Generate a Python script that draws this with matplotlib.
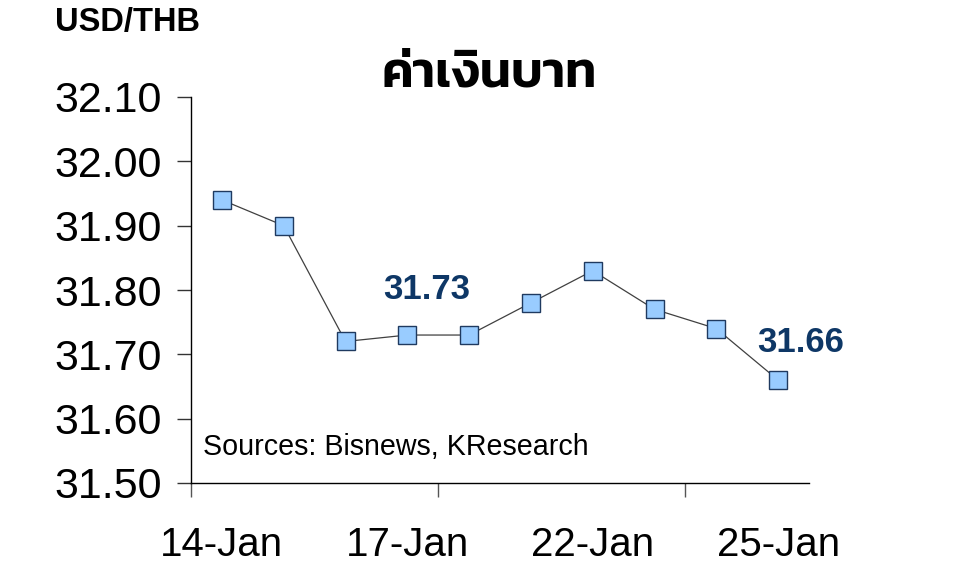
import os
import matplotlib
matplotlib.use("Agg")
import matplotlib.pyplot as plt
from matplotlib import font_manager

dates = ["14-Jan", "15-Jan", "16-Jan", "17-Jan", "18-Jan",
         "21-Jan", "22-Jan", "23-Jan", "24-Jan", "25-Jan"]
rates = [31.94, 31.90, 31.72, 31.73, 31.73, 31.78, 31.83, 31.77, 31.74, 31.66]
label_idx = [0, 3, 6, 9]
yticks = [31.50, 31.60, 31.70, 31.80, 31.90, 32.00, 32.10]
title = "ค่าเงินบาท"
unit = "USD/THB"
source = "Sources: Bisnews, KResearch"
annot_idx = [3, 9]
annot_txt = ["31.73", "31.66"]

# locate a Thai font file
paths = set(f.fname for f in font_manager.fontManager.ttflist)
try:
    paths |= set(font_manager.findSystemFonts())
except Exception:
    pass
by_name = {os.path.basename(p): p for p in paths}
thai_path = None
for nm in ["Kanit-SemiBold.ttf", "Kanit-Bold.ttf", "Loma-Bold.otf"]:
    if nm in by_name:
        thai_path = by_name[nm]
        break

plt.rcParams["font.family"] = ["Liberation Sans", "DejaVu Sans"]

fig = plt.figure(figsize=(9.6, 5.8), dpi=100)
ax = fig.add_axes([191/960, 1-483/580, (809-191)/960, (483-97)/580])

x = list(range(len(rates)))
ax.plot(x, rates, color="#404040", lw=0.9,
        marker="s", markersize=13.5, markerfacecolor="#99CCFF",
        markeredgecolor="#1F3A60", markeredgewidth=1.0, zorder=3)

ax.set_xlim(-0.5, len(rates) - 0.5)
ax.set_ylim(31.50, 32.10)
ax.set_yticks(yticks)
ax.set_yticklabels([f"{v:.2f}" for v in yticks], fontsize=31)
ax.set_xticks([-0.5, 3.5, 7.5])
ax.set_xticklabels([])
ax.set_xticks(label_idx, minor=True)
ax.set_xticklabels([dates[i] for i in label_idx], minor=True, fontsize=29)
ax.tick_params(axis="x", which="minor", length=0, pad=31)
ax.tick_params(axis="x", which="major", length=10, width=1, color="#555555", direction="out")
ax.tick_params(axis="y", length=10, width=1, color="#333333", direction="out", pad=11)

for s in ["top", "right"]:
    ax.spines[s].set_visible(False)
for s in ["left", "bottom"]:
    ax.spines[s].set_color("black")
    ax.spines[s].set_linewidth(1.0)

offsets = [(14, 33), (16, 27)]
for i, txt, off in zip(annot_idx, annot_txt, offsets):
    ax.annotate(txt, (x[i], rates[i]), xytext=off, textcoords="offset points",
                ha="center", va="center", fontsize=25, fontweight="bold", color="#0E3766")

fig.text(203/960, 1-447/580, source, fontsize=20.6, ha="left", va="center")
fig.text(55/960, 1-22/580, unit, fontsize=23.5, fontweight="bold", ha="left", va="center")

if thai_path:
    fp = font_manager.FontProperties(fname=thai_path, size=36)
    fig.text(489/960, 1-75/580, title, fontproperties=fp, ha="center", va="center")
else:
    fig.text(489/960, 1-75/580, title, fontsize=30, fontweight="bold", ha="center", va="center")

fig.savefig("out.png", dpi=100)
